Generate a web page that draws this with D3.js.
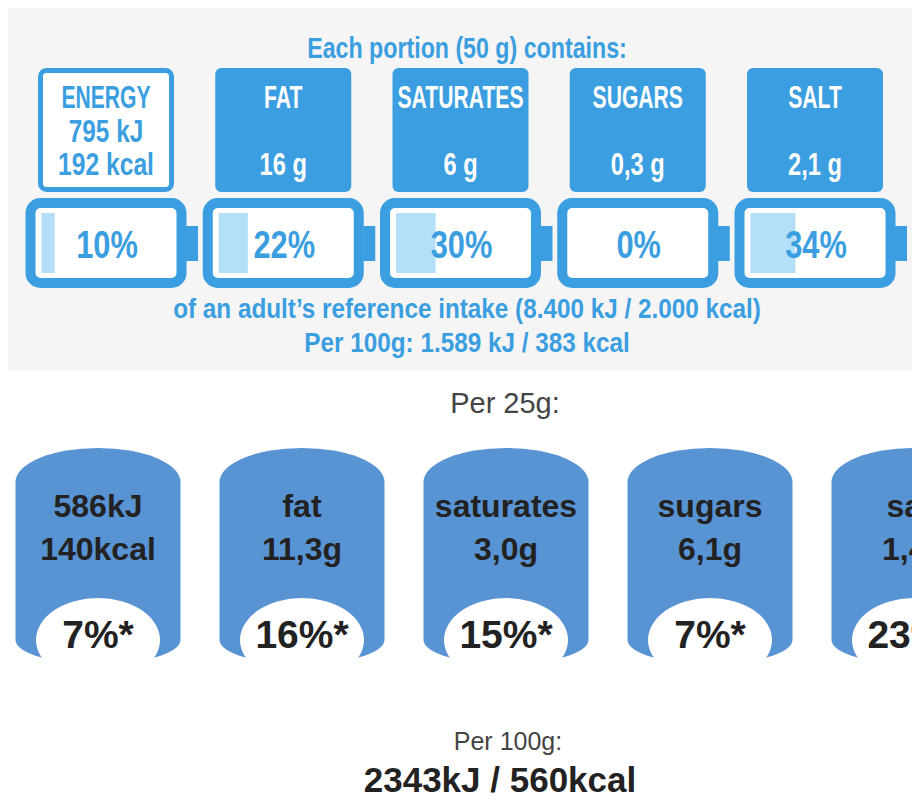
<!DOCTYPE html>
<html>
<head>
<meta charset="utf-8">
<script src="https://cdn.jsdelivr.net/npm/d3@7"></script>
<style>
  body { margin: 0; background: #fff; }
  svg { display: block; }
</style>
</head>
<body>
<svg></svg>
<script>
// Data: top label (per 50 g portion)
const topNutrients = ["ENERGY", "FAT", "SATURATES", "SUGARS", "SALT"];
const topAmounts = ["795 kJ", "16 g", "6 g", "0,3 g", "2,1 g"];
const energyKcal = "192 kcal";
const topPercents = [10, 22, 30, 0, 34];

// Data: bottom label (per 25 g)
const bottomLabels = ["586kJ", "fat", "saturates", "sugars", "salt"];
const bottomAmounts = ["140kcal", "11,3g", "3,0g", "6,1g", "1,4g"];
const bottomPercents = [7, 16, 15, 7, 23];

const width = 912;
const height = 802;

const blue = "#3a9ee0";
const lightBlue = "#b3e0f8";
const cylBlue = "#5893d4";

const svg = d3.select("svg")
    .attr("width", width)
    .attr("height", height);

// condensed text helper (DIN-like look from a normal font)
function condText(g, x, y, str, size, sx, color) {
    return g.append("text")
        .attr("transform", `translate(${x},${y}) scale(${sx},1)`)
        .attr("text-anchor", "middle")
        .attr("font-family", "'Liberation Sans', Arial, sans-serif")
        .attr("font-weight", "bold")
        .attr("font-size", size)
        .attr("fill", color)
        .text(str);
}

// 1. Top panel
const topGroup = svg.append("g");

topGroup.append("rect")
    .attr("x", 8).attr("y", 8)
    .attr("width", width - 8).attr("height", 362)
    .attr("fill", "#f5f5f5");

const xTop = d3.scalePoint()
    .domain(topNutrients)
    .range([106, 815]);

const fillScale = d3.scaleLinear()
    .domain([0, 100])
    .range([0, 132]);

condText(topGroup, 467, 58, "Each portion (50 g) contains:", 29, 0.8, blue);

// boxes
topNutrients.forEach((n, i) => {
    const cx = xTop(n);
    const first = i === 0;
    topGroup.append("rect")
        .attr("x", first ? cx - 65.5 : cx - 68)
        .attr("y", first ? 70.5 : 68)
        .attr("width", first ? 131 : 136)
        .attr("height", first ? 119 : 124)
        .attr("rx", 6)
        .attr("fill", first ? "#fff" : blue)
        .attr("stroke", first ? blue : "none")
        .attr("stroke-width", 5);

    const col = first ? blue : "#fff";
    condText(topGroup, cx, 108, n, 32, 0.66, col);
    if (first) {
        condText(topGroup, cx, 142, topAmounts[i], 32, 0.76, col);
        condText(topGroup, cx, 175, energyKcal, 32, 0.77, col);
    } else {
        condText(topGroup, cx, 175, topAmounts[i], 32, 0.74, col);
    }
});

// batteries
topNutrients.forEach((n, i) => {
    const cx = xTop(n);
    const left = cx - 75.5;
    topGroup.append("rect")
        .attr("x", cx + 80).attr("y", 226)
        .attr("width", 12).attr("height", 35)
        .attr("fill", blue);
    topGroup.append("rect")
        .attr("x", left).attr("y", 203)
        .attr("width", 151).attr("height", 80)
        .attr("rx", 10)
        .attr("fill", "#fff")
        .attr("stroke", blue)
        .attr("stroke-width", 10);
    topGroup.append("rect")
        .attr("x", left + 11).attr("y", 213)
        .attr("width", fillScale(topPercents[i]))
        .attr("height", 60)
        .attr("fill", lightBlue);
    condText(topGroup, cx + 1, 258, topPercents[i] + "%", 39, 0.79, blue);
});

condText(topGroup, 467, 318, "of an adult\u2019s reference intake (8.400 kJ / 2.000 kcal)", 27, 0.9, blue);
condText(topGroup, 467, 352, "Per 100g: 1.589 kJ / 383 kcal", 27, 0.9, blue);

// 2. Bottom panel
const bottomGroup = svg.append("g");

bottomGroup.append("text")
    .attr("x", 505).attr("y", 413)
    .attr("text-anchor", "middle")
    .attr("font-family", "'Liberation Sans', Arial, sans-serif")
    .attr("font-size", 29)
    .attr("fill", "#444")
    .text("Per 25g:");

const xBottom = d3.scalePoint()
    .domain(bottomLabels)
    .range([98, 914]);

const hw = 82.5, topY = 482, botY = 640;

const cylinders = bottomGroup.selectAll("g.cyl")
    .data(bottomLabels)
    .enter()
    .append("g")
    .attr("class", "cyl")
    .attr("transform", d => `translate(${xBottom(d)},0)`);

cylinders.append("path")
    .attr("d", `M${-hw},${botY} L${-hw},${topY} A${hw},34 0 0 1 ${hw},${topY} L${hw},${botY} A${hw},24 0 0 1 ${-hw},${botY} Z`)
    .attr("fill", cylBlue);

cylinders.append("ellipse")
    .attr("cx", 0).attr("cy", 640)
    .attr("rx", 62).attr("ry", 42)
    .attr("fill", "#fff");

const darkText = (sel, y, size, f) => sel.append("text")
    .attr("x", 0).attr("y", y)
    .attr("text-anchor", "middle")
    .attr("font-family", "'Liberation Sans', Arial, sans-serif")
    .attr("font-weight", "bold")
    .attr("font-size", size)
    .attr("fill", "#222")
    .text(f);

darkText(cylinders, 517, 32, d => d);
darkText(cylinders, 560, 32, (d, i) => bottomAmounts[i]);
darkText(cylinders, 648, 39, (d, i) => bottomPercents[i] + "%*");

bottomGroup.append("text")
    .attr("x", 508).attr("y", 750)
    .attr("text-anchor", "middle")
    .attr("font-family", "'Liberation Sans', Arial, sans-serif")
    .attr("font-size", 25)
    .attr("fill", "#444")
    .text("Per 100g:");

bottomGroup.append("text")
    .attr("x", 500).attr("y", 792)
    .attr("text-anchor", "middle")
    .attr("font-family", "'Liberation Sans', Arial, sans-serif")
    .attr("font-weight", "bold")
    .attr("font-size", 35)
    .attr("fill", "#222")
    .text("2343kJ / 560kcal");
</script>
</body>
</html>
